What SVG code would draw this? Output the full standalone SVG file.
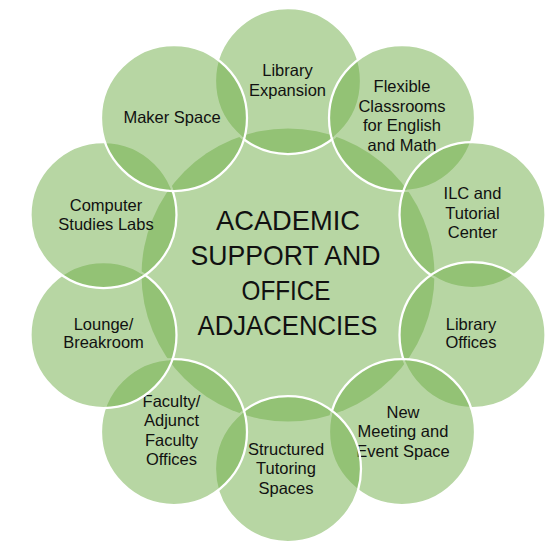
<svg xmlns="http://www.w3.org/2000/svg" width="545" height="543" viewBox="0 0 545 543">
  <style>
    .c { fill: #70AD47; fill-opacity: 0.5; stroke: #ffffff; stroke-width: 2.25; }
    .cc { fill: #70AD47; fill-opacity: 0.5; stroke: none; }
    .t { font-family: "Liberation Sans", Arial, sans-serif; font-size: 16.5px; fill: #111111; text-anchor: middle; }
    .tc { font-family: "Liberation Sans", Arial, sans-serif; font-size: 27.5px; fill: #111111; text-anchor: middle; }
  </style>
  <rect width="545" height="543" fill="#ffffff"/>
  <g id="center">
    <circle class="cc" cx="288" cy="275" r="146.5"/>
    <text class="tc" x="288" y="230" textLength="144" lengthAdjust="spacingAndGlyphs">ACADEMIC</text>
    <text class="tc" x="285.5" y="265" textLength="190" lengthAdjust="spacingAndGlyphs">SUPPORT AND</text>
    <text class="tc" x="286" y="300" textLength="89" lengthAdjust="spacingAndGlyphs">OFFICE</text>
    <text class="tc" x="287.5" y="335" textLength="180" lengthAdjust="spacingAndGlyphs">ADJACENCIES</text>
  </g>
  <g id="library-expansion">
    <circle class="c" cx="288" cy="81" r="73"/>
    <text class="t" x="287.5" y="76">Library</text>
    <text class="t" x="287.5" y="95.5">Expansion</text>
  </g>
  <g id="flexible-classrooms">
    <circle class="c" cx="402" cy="118" r="73"/>
    <text class="t" x="402" y="92">Flexible</text>
    <text class="t" x="402" y="111.5">Classrooms</text>
    <text class="t" x="402" y="131">for English</text>
    <text class="t" x="402" y="150.5">and Math</text>
  </g>
  <g id="ilc-tutorial-center">
    <circle class="c" cx="472.5" cy="215" r="73"/>
    <text class="t" x="472.5" y="199">ILC and</text>
    <text class="t" x="472.5" y="218.5">Tutorial</text>
    <text class="t" x="472.5" y="238">Center</text>
  </g>
  <g id="library-offices">
    <circle class="c" cx="472.5" cy="335" r="73"/>
    <text class="t" x="471" y="330">Library</text>
    <text class="t" x="471" y="347.5">Offices</text>
  </g>
  <g id="new-meeting-event-space">
    <circle class="c" cx="402" cy="432" r="73"/>
    <text class="t" x="403" y="417.5">New</text>
    <text class="t" x="403" y="437">Meeting and</text>
    <text class="t" x="403" y="456.5">Event Space</text>
  </g>
  <g id="structured-tutoring-spaces">
    <circle class="c" cx="288" cy="469" r="73"/>
    <text class="t" x="286" y="455">Structured</text>
    <text class="t" x="286" y="474">Tutoring</text>
    <text class="t" x="286" y="493.5">Spaces</text>
  </g>
  <g id="faculty-offices">
    <circle class="c" cx="174" cy="432" r="73"/>
    <text class="t" x="171.5" y="406.5">Faculty/</text>
    <text class="t" x="171.5" y="426">Adjunct</text>
    <text class="t" x="171.5" y="445.5">Faculty</text>
    <text class="t" x="171.5" y="465">Offices</text>
  </g>
  <g id="lounge-breakroom">
    <circle class="c" cx="103.5" cy="335" r="73"/>
    <text class="t" x="103.5" y="330">Lounge/</text>
    <text class="t" x="103.5" y="347.5">Breakroom</text>
  </g>
  <g id="computer-studies-labs">
    <circle class="c" cx="103.5" cy="215" r="73"/>
    <text class="t" x="106" y="211">Computer</text>
    <text class="t" x="106" y="230">Studies Labs</text>
  </g>
  <g id="maker-space">
    <circle class="c" cx="174" cy="118" r="73"/>
    <text class="t" x="172" y="122.5">Maker Space</text>
  </g>
</svg>
